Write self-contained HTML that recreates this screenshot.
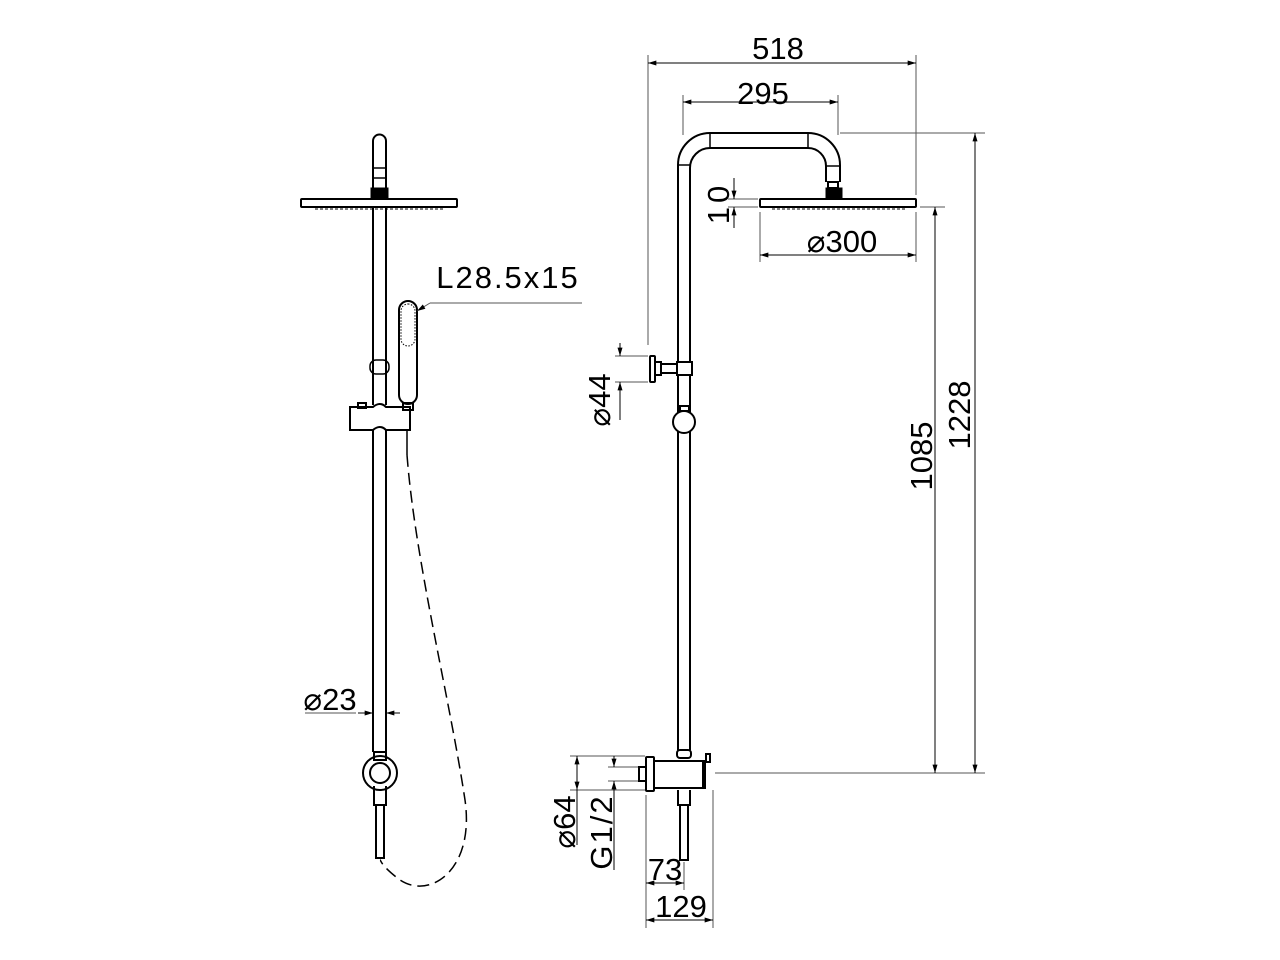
<!DOCTYPE html>
<html><head><meta charset="utf-8"><style>
html,body{margin:0;padding:0;background:#fff;}
svg{display:block;}
text{font-family:"Liberation Sans",sans-serif;fill:#000;}
</style></head><body>
<svg width="1280" height="960" viewBox="0 0 1280 960" xmlns="http://www.w3.org/2000/svg">
<defs>
<marker id="a" viewBox="0 0 10 6" refX="10" refY="3" markerWidth="12" markerHeight="5" orient="auto-start-reverse" markerUnits="userSpaceOnUse"><path d="M0,0 L10,3 L0,6 z" fill="#000"/></marker>
</defs>
<g fill="none" stroke="#000" stroke-width="2">
<path d="M373,198 V141 a6.5,6.5 0 0 1 13,0 V198"/>
<line x1="373" y1="168" x2="386" y2="168" stroke-width="1.5"/>
<line x1="373" y1="178" x2="386" y2="178" stroke-width="1.5"/>
<rect x="371" y="188" width="17" height="11" fill="#000" stroke-width="1"/>
<rect x="301" y="199" width="156" height="8" rx="1"/>
<line x1="315" y1="209" x2="445" y2="209" stroke-width="1" stroke-dasharray="3,2"/>
<line x1="373" y1="207" x2="373" y2="405"/>
<line x1="386" y1="207" x2="386" y2="405"/>
<rect x="370" y="360" width="19" height="14" rx="6" stroke-width="1.5"/>
<path d="M350,407 H373 Q380,401 386,407 H410 V430 H386 Q380,424 373,430 H350 Z"/>
<rect x="358" y="403" width="8" height="5"/>
<line x1="373" y1="430" x2="373" y2="752"/>
<line x1="386" y1="430" x2="386" y2="752"/>
<rect x="399" y="301" width="18" height="103" rx="9"/>
<rect x="401" y="304" width="14" height="42" rx="7" stroke-width="1" stroke-dasharray="1.5,1.5"/>
<rect x="403" y="403" width="10" height="7"/>
<line x1="407" y1="430" x2="407" y2="455" stroke-width="1.5"/>
<path d="M407,455 C415,560 450,700 465,800 C475,870 430,900 400,880 C380,865 381,860 380,860" stroke-width="1.5" stroke-dasharray="12,6"/>
<rect x="374" y="752" width="12" height="8"/>
<circle cx="380" cy="773" r="17"/>
<circle cx="380" cy="773" r="10"/>
<path d="M374,786 V805 H386 V786"/>
<rect x="376" y="805" width="8" height="53"/>
<path d="M678,750 V165 A32,32 0 0 1 710,133 H808 A32,32 0 0 1 840,165 V182"/>
<path d="M690,750 V168 A20,20 0 0 1 710,148 H808 A18,18 0 0 1 826,166 V182"/>
<line x1="710" y1="133" x2="710" y2="148" stroke-width="1.5"/>
<line x1="808" y1="133" x2="808" y2="148" stroke-width="1.5"/>
<line x1="678" y1="165" x2="690" y2="165" stroke-width="1.5"/>
<line x1="826" y1="166" x2="840" y2="166" stroke-width="1.5"/>
<rect x="828" y="182" width="10" height="6"/>
<rect x="826" y="188" width="16" height="11" fill="#000" stroke-width="1"/>
<rect x="760" y="199" width="156" height="8" rx="1"/>
<line x1="772" y1="209" x2="905" y2="209" stroke-width="1" stroke-dasharray="3,2"/>
<rect x="650" y="356" width="5" height="26" rx="1"/>
<rect x="655" y="362" width="6" height="13"/>
<line x1="661" y1="364" x2="677" y2="364"/>
<line x1="661" y1="373" x2="677" y2="373"/>
<rect x="677" y="362" width="15" height="13" fill="#fff"/>
<rect x="680" y="406" width="9" height="5"/>
<circle cx="684" cy="422" r="11" fill="#fff"/>
<rect x="677" y="750" width="14" height="8" rx="3"/>
<rect x="646" y="757" width="8" height="34" rx="1"/>
<rect x="639" y="767" width="7" height="14"/>
<path d="M654,761 H705 V788 H654 Z"/>
<line x1="703" y1="761" x2="703" y2="788"/>
<rect x="706" y="754" width="4" height="8"/>
<path d="M678,790 V805 H690 V790"/>
<rect x="680" y="805" width="8" height="55"/>
</g>
<g fill="none" stroke="#555" stroke-width="1">
<line x1="648" y1="55" x2="648" y2="345"/>
<line x1="916" y1="55" x2="916" y2="195"/>
<line x1="683" y1="95" x2="683" y2="135"/>
<line x1="838" y1="95" x2="838" y2="135"/>
<line x1="840" y1="133" x2="985" y2="133"/>
<line x1="920" y1="207" x2="945" y2="207"/>
<line x1="715" y1="773" x2="985" y2="773"/>
<line x1="728" y1="199" x2="758" y2="199"/>
<line x1="728" y1="207" x2="758" y2="207"/>
<line x1="760" y1="212" x2="760" y2="262"/>
<line x1="916" y1="212" x2="916" y2="262"/>
<line x1="615" y1="356" x2="648" y2="356"/>
<line x1="615" y1="382" x2="648" y2="382"/>
<line x1="570" y1="756" x2="645" y2="756"/>
<line x1="570" y1="790" x2="645" y2="790"/>
<line x1="608" y1="767" x2="638" y2="767"/>
<line x1="608" y1="781" x2="638" y2="781"/>
<line x1="646" y1="795" x2="646" y2="928"/>
<line x1="684" y1="862" x2="684" y2="890"/>
<line x1="713" y1="790" x2="713" y2="928"/>
<line x1="430" y1="303" x2="582" y2="303"/>
<line x1="305" y1="713" x2="356" y2="713"/>
</g>
<g stroke="#000" stroke-width="1" fill="none">
<line x1="648" y1="63" x2="916" y2="63" marker-start="url(#a)" marker-end="url(#a)"/>
<line x1="683" y1="102" x2="838" y2="102" marker-start="url(#a)" marker-end="url(#a)"/>
<line x1="975" y1="133" x2="975" y2="773" marker-start="url(#a)" marker-end="url(#a)"/>
<line x1="935" y1="207" x2="935" y2="773" marker-start="url(#a)" marker-end="url(#a)"/>
<line x1="760" y1="255" x2="916" y2="255" marker-start="url(#a)" marker-end="url(#a)"/>
<line x1="734" y1="178" x2="734" y2="199" marker-end="url(#a)"/>
<line x1="734" y1="228" x2="734" y2="207" marker-end="url(#a)"/>
<line x1="620" y1="343" x2="620" y2="356" marker-end="url(#a)"/>
<line x1="620" y1="420" x2="620" y2="382" marker-end="url(#a)"/>
<line x1="577" y1="790" x2="577" y2="756" marker-start="url(#a)" marker-end="url(#a)"/>
<line x1="577" y1="790" x2="577" y2="845"/>
<line x1="614" y1="756" x2="614" y2="767" marker-end="url(#a)"/>
<line x1="614" y1="870" x2="614" y2="781" marker-end="url(#a)"/>
<line x1="646" y1="883" x2="684" y2="883" marker-start="url(#a)" marker-end="url(#a)"/>
<line x1="646" y1="920" x2="713" y2="920" marker-start="url(#a)" marker-end="url(#a)"/>
<line x1="358" y1="713" x2="373" y2="713" marker-end="url(#a)"/>
<line x1="400" y1="713" x2="386" y2="713" marker-end="url(#a)"/>
<line x1="430" y1="303" x2="417" y2="311" marker-end="url(#a)" stroke="#555"/>
</g>
<g font-size="31">
<text x="778" y="59" text-anchor="middle">518</text>
<text x="763" y="104" text-anchor="middle">295</text>
<text x="842" y="252" text-anchor="middle">⌀300</text>
<text x="508" y="288" text-anchor="middle" letter-spacing="2">L28.5x15</text>
<text x="330" y="710" text-anchor="middle">⌀23</text>
<text x="665" y="880" text-anchor="middle">73</text>
<text x="681" y="917" text-anchor="middle">129</text>
<text transform="translate(932,456) rotate(-90)" text-anchor="middle">1085</text>
<text transform="translate(970,415) rotate(-90)" text-anchor="middle">1228</text>
<text transform="translate(729,203) rotate(-90)" text-anchor="middle" letter-spacing="4">10</text>
<text transform="translate(610,400) rotate(-90)" text-anchor="middle">⌀44</text>
<text transform="translate(575,822) rotate(-90)" text-anchor="middle">⌀64</text>
<text transform="translate(612,832) rotate(-90)" text-anchor="middle" letter-spacing="2">G1/2</text>
</g>
</svg>
</body></html>
